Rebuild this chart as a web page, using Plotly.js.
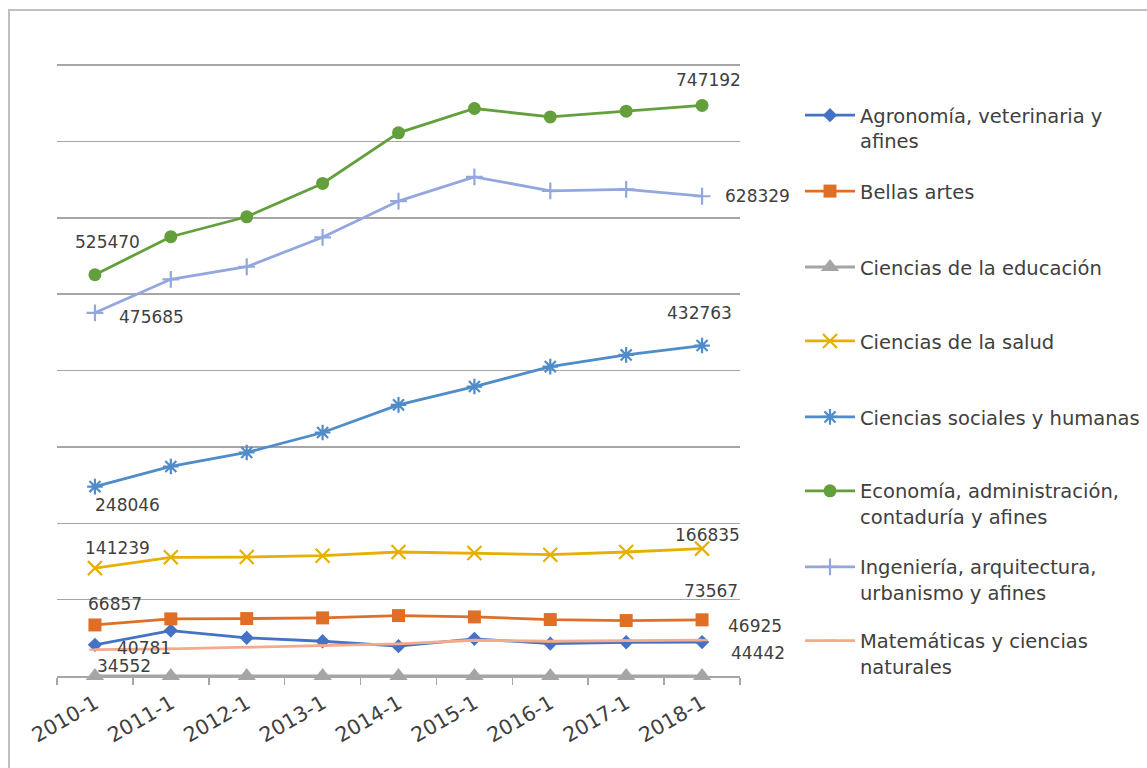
<!DOCTYPE html>
<html>
<head>
<meta charset="utf-8">
<script src="https://cdn.plot.ly/plotly-3.0.1.min.js"></script>
<style>html,body{margin:0;padding:0;background:#fff;}#chart{width:1147px;height:768px;}</style>
</head>
<body>
<div id="chart"></div>
<script>
const periods = ["2010-1","2011-1","2012-1","2013-1","2014-1","2015-1","2016-1","2017-1","2018-1"];

const seriesNames = [
  "Agronomía, veterinaria y<br>afines",
  "Bellas artes",
  "Ciencias de la educación",
  "Ciencias de la salud",
  "Ciencias sociales y humanas",
  "Economía, administración,<br>contaduría y afines",
  "Ingeniería, arquitectura,<br>urbanismo y afines",
  "Matemáticas y ciencias<br>naturales"
];

const agronomia   = [40781, 59500, 50000, 45500, 39000, 48700, 42500, 44200, 44442];
const bellasArtes = [66857, 74800, 75200, 76100, 79100, 77400, 73900, 72600, 73567];
const educacion   = [0, 0, 0, 0, 0, 0, 0, 0, 0];
const salud       = [141239, 155400, 155800, 157600, 162400, 161100, 158900, 162400, 166835];
const sociales    = [248046, 274400, 292700, 318900, 355100, 379100, 405200, 420500, 432763];
const economia    = [525470, 575300, 601400, 645100, 711300, 743200, 732200, 739700, 747192];
const ingenieria  = [475685, 519500, 536000, 574500, 622000, 653700, 635400, 637300, 628329];
const matematicas = [34552, 35600, 37700, 39900, 42100, 46800, 45500, 46400, 46925];

const allSeries = [agronomia, bellasArtes, educacion, salud, sociales, economia, ingenieria, matematicas];

const colors = ["#4472C4", "#DF6E27", "#A5A5A5", "#E6B000", "#4F8CC9", "#63A03C", "#92A7DE", "#F4AA8C"];
const symbols = ["diamond", "square", "triangle-up", "x-thin-open", "asterisk-open", "circle", "cross-thin-open", "line-ew-open"];
const sizes = [11, 13, 16, 14, 13, 13, 12, 8];
// legend item first-line centre (px from top)
const legendRows = [114, 190, 266, 340, 416, 490, 566, 640];

// label placement (series index, point index, xshift, yshift)
const labelSpecs = [
  [5, 0, 13, 33], [5, 8, 6, 25],
  [6, 0, 57, -4], [6, 8, 55, 0],
  [4, 0, 33, -18], [4, 8, -3, 33],
  [3, 0, 23, 20], [3, 8, 5, 14],
  [1, 0, 20, 21], [1, 8, 9, 29],
  [0, 0, 49, -3], [0, 8, 56, -11],
  [7, 0, 29, -16], [7, 8, 53, 14]
];

const FONT = "DejaVu Sans, sans-serif";
const W = 1147, H = 768;
const L = 57, R = 740, T = 64, B = 676.5;
const pw = R - L, ph = B - T;

const traces = allSeries.map((vals, i) => {
  const open = symbols[i].endsWith("-open");
  return {
    type: "scatter",
    mode: "lines+markers",
    x: periods,
    y: vals,
    name: seriesNames[i],
    legend: i === 0 ? "legend" : "legend" + (i + 1),
    cliponaxis: false,
    line: {color: colors[i], width: 2.8},
    marker: {
      symbol: symbols[i],
      size: sizes[i],
      color: colors[i],
      line: {color: colors[i], width: open ? 2.2 : 0}
    },
    hoverinfo: "x+y+name"
  };
});

const layout = {
  width: W, height: H,
  margin: {l: L, r: W - R, t: T, b: H - B, autoexpand: false},
  paper_bgcolor: "#ffffff",
  plot_bgcolor: "#ffffff",
  font: {family: FONT, color: "#404040", size: 16},
  xaxis: {
    type: "category",
    range: [-0.5, 8.5],
    showgrid: false,
    showline: true,
    linecolor: "#A6A6A6",
    linewidth: 1.5,
    ticks: "outside",
    tickson: "boundaries",
    ticklen: 7,
    tickcolor: "#A6A6A6",
    tickwidth: 1.5,
    tickangle: -30,
    ticklabelstandoff: 6,
    tickfont: {family: FONT, size: 20.5, color: "#404040"},
    zeroline: false,
    layer: "below traces",
    automargin: false,
    fixedrange: true
  },
  yaxis: {
    range: [0, 801500],
    tick0: 0,
    dtick: 100000,
    showgrid: true,
    gridcolor: "#A6A6A6",
    gridwidth: 1.5,
    showticklabels: false,
    showline: false,
    zeroline: false,
    ticks: "",
    automargin: false,
    fixedrange: true
  },
  annotations: labelSpecs.map(([s, p, dx, dy]) => ({
    x: periods[p], y: allSeries[s][p],
    xref: "x", yref: "y",
    text: String(allSeries[s][p]),
    showarrow: false,
    xshift: dx, yshift: dy,
    xanchor: "center", yanchor: "middle",
    font: {family: FONT, size: 17, color: "#404040"}
  })),
  shapes: [{
    type: "rect", xref: "paper", yref: "paper",
    x0: (9 - L) / pw, x1: (1160 - L) / pw,
    y0: (B - 780) / ph, y1: (B - 10) / ph,
    line: {color: "#BFBFBF", width: 2},
    fillcolor: "rgba(0,0,0,0)", layer: "below"
  }],
  showlegend: true
};

legendRows.forEach((row, i) => {
  const key = i === 0 ? "legend" : "legend" + (i + 1);
  layout[key] = {
    x: (800 - L) / pw,
    xanchor: "left",
    y: (B - (row - 18)) / ph,
    yanchor: "top",
    bgcolor: "rgba(0,0,0,0)",
    borderwidth: 0,
    valign: "top",
    itemwidth: 50,
    font: {family: FONT, size: 19.5, color: "#404040"},
    itemclick: false,
    itemdoubleclick: false
  };
});

Plotly.newPlot("chart", traces, layout, {displayModeBar: false, staticPlot: true});
</script>
</body>
</html>
